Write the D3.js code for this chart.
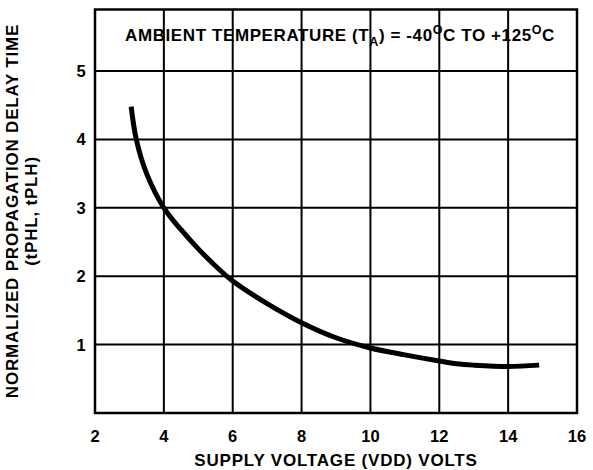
<!DOCTYPE html>
<html>
<head>
	<script src="https://cdnjs.cloudflare.com/ajax/libs/d3/7.8.5/d3.min.js"></script>
	<style>
		body { margin: 0; background: white; }
		text {
			font-family: Arial, "Liberation Sans", sans-serif;
			font-weight: bold;
			fill: black;
		}
	</style>
</head>
<body>
	<svg id="main" width="593" height="470"></svg>

	<script>
		// supply voltage (V) and normalized delay
		var voltage = [3.05, 3.2, 3.5, 4, 4.5, 5, 5.5, 6, 7, 8, 9, 10, 11, 12, 12.5, 13, 14, 14.9];
		var delay   = [4.48, 4.0, 3.5, 3.0, 2.68, 2.4, 2.15, 1.93, 1.6, 1.32, 1.1, 0.95, 0.85, 0.76, 0.72, 0.70, 0.68, 0.70];

		var xTicks = [2, 4, 6, 8, 10, 12, 14, 16];
		var yTicks = [1, 2, 3, 4, 5];

		var svg = d3.select('#main');

		var x = d3.scaleLinear().domain([2, 16]).range([95, 577]);
		var y = d3.scaleLinear().domain([0, 5.9]).range([413, 9.5]);

		// grid
		svg.selectAll('line.vx').data(xTicks.slice(1, -1)).enter().append('line')
			.attr('x1', function(d) { return x(d); })
			.attr('x2', function(d) { return x(d); })
			.attr('y1', y(5.9)).attr('y2', y(0))
			.attr('stroke', 'black').attr('stroke-width', 2);

		svg.selectAll('line.hy').data(yTicks).enter().append('line')
			.attr('x1', x(2)).attr('x2', x(16))
			.attr('y1', function(d) { return y(d); })
			.attr('y2', function(d) { return y(d); })
			.attr('stroke', 'black').attr('stroke-width', 2);

		// frame
		svg.append('rect')
			.attr('x', x(2)).attr('y', y(5.9))
			.attr('width', x(16) - x(2)).attr('height', y(0) - y(5.9))
			.attr('fill', 'none').attr('stroke', 'black').attr('stroke-width', 2.5);

		// tick labels
		svg.selectAll('text.xt').data(xTicks).enter().append('text')
			.attr('x', function(d) { return x(d); })
			.attr('y', 442)
			.attr('text-anchor', 'middle')
			.style('font-size', '16.5px')
			.text(function(d) { return d; });

		svg.selectAll('text.yt').data(yTicks).enter().append('text')
			.attr('x', 81)
			.attr('y', function(d) { return y(d) + 6; })
			.attr('text-anchor', 'middle')
			.style('font-size', '16.5px')
			.text(function(d) { return d; });

		// curve
		var pts = voltage.map(function(v, i) { return [v, delay[i]]; });
		var line = d3.line()
			.x(function(d) { return x(d[0]); })
			.y(function(d) { return y(d[1]); })
			.curve(d3.curveCatmullRom.alpha(0.5));

		svg.append('path')
			.datum(pts)
			.attr('d', line)
			.attr('fill', 'none')
			.attr('stroke', 'black')
			.attr('stroke-width', 5);

		// title inside plot
		var t = svg.append('text')
			.attr('x', 340).attr('y', 41)
			.attr('text-anchor', 'middle')
			.style('font-size', '17px')
			.style('letter-spacing', '0.6px');
		t.append('tspan').text('AMBIENT TEMPERATURE (T');
		t.append('tspan').attr('dy', 5).style('font-size', '12.5px').text('A');
		t.append('tspan').attr('dy', -5).text(') = -40');
		t.append('tspan').attr('dy', -7).style('font-size', '12.5px').text('O');
		t.append('tspan').attr('dy', 7).text('C TO +125');
		t.append('tspan').attr('dy', -7).style('font-size', '12.5px').text('O');
		t.append('tspan').attr('dy', 7).text('C');

		// axis titles
		svg.append('text')
			.attr('x', 336).attr('y', 466)
			.attr('text-anchor', 'middle')
			.style('font-size', '17px')
			.style('letter-spacing', '0.8px')
			.text('SUPPLY VOLTAGE (VDD) VOLTS');

		svg.append('text')
			.attr('transform', 'translate(18,211) rotate(-90)')
			.attr('text-anchor', 'middle')
			.style('font-size', '17px')
			.style('letter-spacing', '0.8px')
			.text('NORMALIZED PROPAGATION DELAY TIME');

		svg.append('text')
			.attr('transform', 'translate(37,211) rotate(-90)')
			.attr('text-anchor', 'middle')
			.style('font-size', '17px')
			.style('letter-spacing', '0.8px')
			.text('(tPHL, tPLH)');
	</script>
</body>
</html>
